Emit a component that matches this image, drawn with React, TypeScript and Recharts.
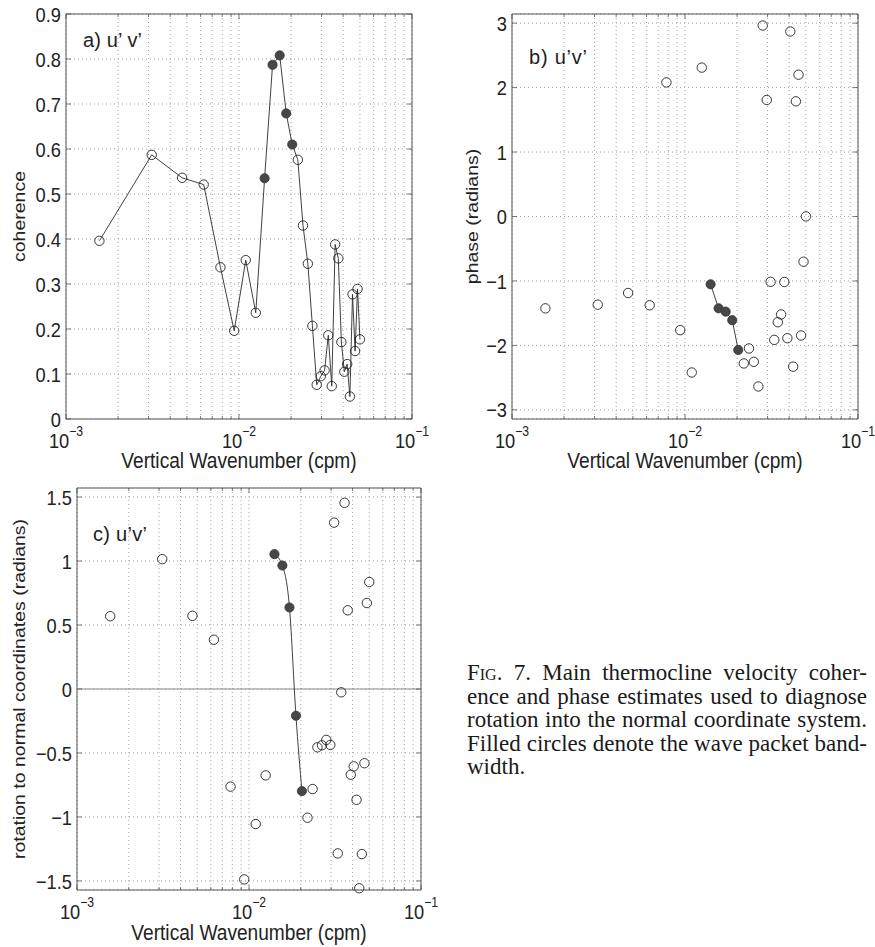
import React from 'react';
import { ScatterChart, Scatter, XAxis, YAxis, CartesianGrid, ReferenceArea, ReferenceLine } from 'recharts';

// wavenumber bins (cpm) shared by all three panels
const wavenumber = [
  0.00156, 0.00313, 0.00469, 0.00625, 0.00781, 0.00938, 0.01094, 0.0125,
  0.01406, 0.01563, 0.01719, 0.01875, 0.02031, 0.02188, 0.02344, 0.025,
  0.02656, 0.02813, 0.02969, 0.03125, 0.03281, 0.03438, 0.03594, 0.0375,
  0.03906, 0.04063, 0.04219, 0.04375, 0.04531, 0.04688, 0.04844, 0.05,
];

// a) coherence
const coherence = [
  0.396, 0.587, 0.536, 0.521, 0.337, 0.196, 0.353, 0.236,
  0.535, 0.787, 0.808, 0.679, 0.61, 0.576, 0.43, 0.345,
  0.207, 0.076, 0.095, 0.108, 0.186, 0.073, 0.388, 0.357,
  0.171, 0.105, 0.122, 0.05, 0.277, 0.151, 0.289, 0.177,
];

// b) phase (radians)
const phase = [
  -1.425, -1.368, -1.187, -1.377, 2.08, -1.763, -2.42, 2.31,
  -1.052, -1.424, -1.476, -1.609, -2.07, -2.28, -2.047, -2.255,
  -2.637, 2.963, 1.808, -1.013, -1.914, -1.64, -1.52, -1.016,
  -1.888, 2.87, -2.33, 1.787, 2.2, -1.846, -0.701, 0.002,
];

// c) rotation to normal coordinates (radians)
const rotation = [
  0.569, 1.015, 0.572, 0.385, -0.763, -1.488, -1.055, -0.675,
  1.054, 0.965, 0.637, -0.209, -0.798, -1.006, -0.782, -0.456,
  -0.44, -0.398, -0.437, 1.3, -1.285, -0.026, 1.455, 0.615,
  -0.67, -0.605, -0.866, -1.557, -1.29, -0.58, 0.672, 0.836,
];

// 1 = inside the wave packet bandwidth (filled circles)
const inBand = [
  0, 0, 0, 0, 0, 0, 0, 0,
  1, 1, 1, 1, 1, 0, 0, 0,
  0, 0, 0, 0, 0, 0, 0, 0,
  0, 0, 0, 0, 0, 0, 0, 0,
];

const xTicks = [
  0.001, 0.002, 0.003, 0.004, 0.005, 0.006, 0.007, 0.008, 0.009,
  0.01, 0.02, 0.03, 0.04, 0.05, 0.06, 0.07, 0.08, 0.09, 0.1,
];
const cohTicks = [0, 0.1, 0.2, 0.3, 0.4, 0.5, 0.6, 0.7, 0.8, 0.9];
const phaseTicks = [-3, -2, -1, 0, 1, 2, 3];
const rotTicks = [-1.5, -1, -0.5, 0, 0.5, 1, 1.5];

const rows = (vals: number[]) => wavenumber.map((k, i) => ({ k, v: vals[i], band: inBand[i] === 1 }));
const rowsA = rows(coherence);
const rowsB = rows(phase);
const rowsC = rows(rotation);

const SANS = '"Liberation Sans", Arial, Helvetica, sans-serif';
const SQ = 0.87; // the original figure is squeezed horizontally
const INK = '#222';
const BOX = '#555';

const Marker = (props: any) => {
  const { cx, cy, payload } = props;
  if (cx == null || cy == null) return <g />;
  if (payload.band) {
    return <circle cx={cx} cy={cy} r={4.6} fill="#474747" stroke="#333" strokeWidth={0.8} />;
  }
  return <circle cx={cx} cy={cy} r={4.7} fill="none" stroke="#222" strokeWidth={0.9} />;
};

// tick marks point inward on both the bottom and top edges of the box
const xTick = (plotH: number) => (props: any) => {
  const { x, y, payload } = props;
  const lg = Math.log10(payload.value);
  const exp = Math.round(lg);
  const major = Math.abs(lg - exp) < 1e-6;
  const len = major ? 5 : 3;
  return (
    <g>
      <line x1={x} x2={x} y1={y} y2={y - len} stroke={BOX} strokeWidth={0.8} />
      <line x1={x} x2={x} y1={y - plotH} y2={y - plotH + len} stroke={BOX} strokeWidth={0.8} />
      {major && (
        <text
          transform={`translate(${x} ${y + 28.5}) scale(${SQ} 1)`}
          textAnchor="middle"
          fontSize={21}
          fontFamily={SANS}
          fill={INK}
        >
          10<tspan dy={-12} fontSize={14}>{'\u2212' + Math.abs(exp)}</tspan>
        </text>
      )}
    </g>
  );
};

const yTick = (plotW: number) => (props: any) => {
  const { x, y, payload } = props;
  const label = String(payload.value).replace('-', '\u2212');
  return (
    <g>
      <line x1={x} x2={x + 5} y1={y} y2={y} stroke={BOX} strokeWidth={0.8} />
      <line x1={x + plotW} x2={x + plotW - 5} y1={y} y2={y} stroke={BOX} strokeWidth={0.8} />
      <text
        transform={`translate(${x - 5} ${y}) scale(${SQ} 1)`}
        textAnchor="end"
        dy="0.36em"
        fontSize={21}
        fontFamily={SANS}
        fill={INK}
      >
        {label}
      </text>
    </g>
  );
};

const xTitle = (dy: number) => (props: any) => {
  const { viewBox } = props;
  const cx = viewBox.x + viewBox.width / 2;
  return (
    <text
      transform={`translate(${cx} ${viewBox.y + dy}) scale(${SQ} 1)`}
      textAnchor="middle"
      fontSize={22}
      fontFamily={SANS}
      fill={INK}
    >
      Vertical Wavenumber (cpm)
    </text>
  );
};

const yTitle = (text: string, cx: number) => (props: any) => {
  const { viewBox } = props;
  const cy = viewBox.y + viewBox.height / 2;
  return (
    <text
      transform={`translate(${cx} ${cy}) scale(${SQ} 1) rotate(-90)`}
      textAnchor="middle"
      dy="0.35em"
      fontSize={19.5}
      fontFamily={SANS}
      fill={INK}
    >
      {text}
    </text>
  );
};

const panelLabel = (text: string, dx: number, dy: number, len: number) => (props: any) => {
  const { viewBox } = props;
  return (
    <text
      x={viewBox.x + dx}
      y={viewBox.y + dy}
      fontSize={20}
      fontFamily={SANS}
      fill={INK}
      textLength={len}
      lengthAdjust="spacing"
    >
      {text}
    </text>
  );
};

const grid = <CartesianGrid stroke="#9a9a9a" strokeDasharray="1 3" strokeWidth={0.9} />;

const lineStyle = { stroke: '#2a2a2a', strokeWidth: 0.9 };

const caption = [
  'ence and phase estimates used to diagnose',
  'rotation into the normal coordinate system.',
  'Filled circles denote the wave packet band-',
];

const App = () => {
  return (
    <div style={{ position: 'absolute', left: 0, top: 0, width: 875, height: 947, background: '#fff' }}>
      {/* a) coherence */}
      <div style={{ position: 'absolute', left: 0, top: 0 }}>
        <ScatterChart width={440} height={475} margin={{ top: 14, right: 28, bottom: 0, left: 0 }}>
          {grid}
          <XAxis
            type="number"
            dataKey="k"
            scale="log"
            domain={[0.001, 0.1]}
            ticks={xTicks}
            interval={0}
            tickSize={0}
            tickMargin={0}
            axisLine={false}
            tick={xTick(405)}
            height={56}
            label={xTitle(48.5)}
          />
          <YAxis
            type="number"
            dataKey="v"
            domain={[0, 0.9]}
            ticks={cohTicks}
            interval={0}
            tickSize={0}
            tickMargin={0}
            axisLine={false}
            tick={yTick(346)}
            width={66}
            label={yTitle('coherence', 19)}
          />
          <ReferenceArea
            x1={0.001}
            x2={0.1}
            y1={0}
            y2={0.9}
            fill="none"
            stroke={BOX}
            strokeWidth={1}
            label={panelLabel('a) u\u2019 v\u2019', 17, 33, 59)}
          />
          <Scatter data={rowsA} line={lineStyle} shape={Marker} isAnimationActive={false} />
        </ScatterChart>
      </div>

      {/* b) phase */}
      <div style={{ position: 'absolute', left: 430, top: 0 }}>
        <ScatterChart width={445} height={475} margin={{ top: 14, right: 17, bottom: 0, left: 0 }}>
          {grid}
          <XAxis
            type="number"
            dataKey="k"
            scale="log"
            domain={[0.001, 0.1]}
            ticks={xTicks}
            interval={0}
            tickSize={0}
            tickMargin={0}
            axisLine={false}
            tick={xTick(405)}
            height={56}
            label={xTitle(48.5)}
          />
          <YAxis
            type="number"
            dataKey="v"
            domain={[-3.1416, 3.1416]}
            ticks={phaseTicks}
            interval={0}
            tickSize={0}
            tickMargin={0}
            axisLine={false}
            tick={yTick(346)}
            width={82}
            label={yTitle('phase (radians)', 42)}
          />
          <ReferenceArea
            x1={0.001}
            x2={0.1}
            y1={-3.1416}
            y2={3.1416}
            fill="none"
            stroke={BOX}
            strokeWidth={1}
            label={panelLabel('b) u\u2019v\u2019', 17, 50, 58)}
          />
          <Scatter data={rowsB.filter((r) => !r.band)} shape={Marker} isAnimationActive={false} />
          <Scatter data={rowsB.filter((r) => r.band)} line={lineStyle} shape={Marker} isAnimationActive={false} />
        </ScatterChart>
      </div>

      {/* c) rotation */}
      <div style={{ position: 'absolute', left: 0, top: 470 }}>
        <ScatterChart width={440} height={477} margin={{ top: 18, right: 19, bottom: 0, left: 0 }}>
          {grid}
          <XAxis
            type="number"
            dataKey="k"
            scale="log"
            domain={[0.001, 0.1]}
            ticks={xTicks}
            interval={0}
            tickSize={0}
            tickMargin={0}
            axisLine={false}
            tick={xTick(402)}
            height={57}
            label={xTitle(50)}
          />
          <YAxis
            type="number"
            dataKey="v"
            domain={[-1.5708, 1.5708]}
            ticks={rotTicks}
            interval={0}
            tickSize={0}
            tickMargin={0}
            axisLine={false}
            tick={yTick(344)}
            width={77}
            label={yTitle('rotation to normal coordinates (radians)', 19)}
          />
          <ReferenceLine y={0} stroke="#8a8a8a" strokeWidth={1.2} />
          <ReferenceArea
            x1={0.001}
            x2={0.1}
            y1={-1.5708}
            y2={1.5708}
            fill="none"
            stroke={BOX}
            strokeWidth={1}
            label={panelLabel('c) u\u2019v\u2019', 16, 53, 54)}
          />
          <Scatter data={rowsC.filter((r) => !r.band)} shape={Marker} isAnimationActive={false} />
          <Scatter
            data={rowsC.filter((r) => r.band)}
            line={lineStyle}
            lineJointType="monotoneX"
            shape={Marker}
            isAnimationActive={false}
          />
        </ScatterChart>
      </div>

      {/* figure caption */}
      <div
        style={{
          position: 'absolute',
          left: 467,
          top: 661,
          width: 400,
          fontFamily: '"Liberation Serif", "Times New Roman", serif',
          fontSize: 23,
          lineHeight: '23.5px',
          color: '#1a1a1a',
        }}
      >
        <div style={{ textAlign: 'justify', textAlignLast: 'justify', whiteSpace: 'nowrap' }}>
          <span style={{ fontVariant: 'small-caps' }}>Fig.</span> 7. Main thermocline velocity coher-
        </div>
        {caption.map((line) => (
          <div key={line} style={{ textAlign: 'justify', textAlignLast: 'justify' }}>
            {line}
          </div>
        ))}
        <div>width.</div>
      </div>
    </div>
  );
};

export default App;
